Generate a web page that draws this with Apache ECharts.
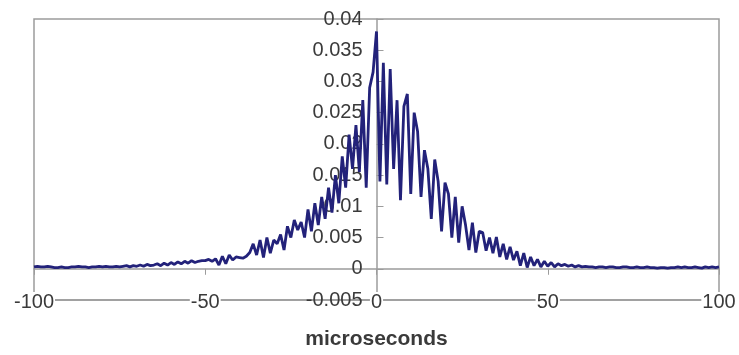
<!DOCTYPE html>
<html>
<head>
<meta charset="utf-8">
<script src="https://cdn.jsdelivr.net/npm/echarts@6/dist/echarts.min.js"></script>
<style>
  html, body { margin: 0; padding: 0; background: #fff; }
  #chart { width: 739px; height: 355px; }
</style>
</head>
<body>
<div id="chart"></div>
<script>
// x runs from -100 to 100 microseconds, one sample per microsecond
const xStart = -100
// signal values in units of 1e-3
const signal = [
  // -100 .. -71
  0.3, 0.4, 0.3, 0.3, 0.4, 0.3, 0.2, 0.2, 0.3, 0.2,
  0.2, 0.3, 0.3, 0.4, 0.3, 0.3, 0.2, 0.3, 0.3, 0.4,
  0.3, 0.4, 0.3, 0.3, 0.4, 0.3, 0.4, 0.5, 0.3, 0.5,
  // -70 .. -51
  0.4, 0.6, 0.4, 0.7, 0.5, 0.6, 0.8, 0.5, 0.9, 0.6,
  1.0, 0.7, 1.1, 0.8, 1.2, 0.9, 1.3, 1.0, 1.2, 1.3,
  // -50 .. -38
  1.3, 1.5, 1.2, 1.6, 0.6, 2.0, 0.8, 2.2, 1.4, 1.9, 1.8, 1.7, 2.0,
  // -37 .. -21
  2.6, 4.0, 2.2, 4.6, 1.8, 5.0, 2.5, 4.6, 4.0, 5.5, 3.0, 6.8, 5.0, 7.8, 6.2, 7.5, 5.0,
  // -20 .. -9
  9.5, 6.0, 10.5, 7.0, 11.5, 8.0, 13.0, 9.0, 15.0, 10.5, 18.0, 13.0,
  // -8 .. -1
  21.5, 16.0, 23.0, 15.5, 27.0, 13.0, 29.0, 31.5,
  // 0 .. 62
  38.0, 14.0, 33.0, 13.5, 32.0, 16.0, 27.0, 11.0, 26.0, 28.0,
  12.0, 25.0, 22.0, 11.5, 19.0, 16.0, 8.0, 17.5, 14.0, 6.0,
  13.8, 12.0, 5.0, 11.5, 4.2, 10.0, 7.0, 3.0, 7.4, 2.6,
  6.0, 5.8, 2.9, 5.0, 2.5, 5.1, 1.9, 4.0, 1.5, 3.5,
  1.4, 2.8, 0.5, 2.5, 0.2, 1.9, 0.5, 1.5, 0.3, 1.2,
  0.4, 1.0, 0.3, 0.8, 0.5, 0.7, 0.4, 0.6, 0.3, 0.5,
  0.3, 0.4, 0.3,
  // 63 .. 100
  0.3, 0.2, 0.3, 0.3, 0.2, 0.3, 0.3, 0.2, 0.2, 0.3,
  0.3, 0.2, 0.2, 0.3, 0.2, 0.2, 0.3, 0.2, 0.2, 0.1,
  0.2, 0.2, 0.1, 0.2, 0.2, 0.3, 0.2, 0.3, 0.2, 0.2,
  0.3, 0.2, 0.1, 0.3, 0.2, 0.3, 0.2, 0.3
]
const xTicks = [-100, -50, 0, 50, 100]
const yTicks = [-0.005, 0, 0.005, 0.01, 0.015, 0.02, 0.025, 0.03, 0.035, 0.04]

const points = signal.map((v, i) => [xStart + i, v / 1000])

const chart = echarts.init(document.getElementById('chart'))

const gray = '#9c9c9c'
const textColor = '#3a3a3a'
const font = 'Liberation Sans, Arial, sans-serif'

// plot box
const gridLeft = 34
const gridRight = 20
const plotWidth = 739 - gridLeft - gridRight
// the vertical axis sits at x = 0, halfway across
const yAxisShift = -plotWidth / 2

chart.setOption({
  animation: false,
  grid: {
    left: gridLeft,
    right: gridRight,
    top: 19,
    bottom: 55,
    containLabel: false,
    outerBoundsMode: 'none',
    show: true,
    borderColor: gray,
    borderWidth: 1.5
  },
  xAxis: [
    {
      type: 'value',
      min: xTicks[0],
      max: xTicks[xTicks.length - 1],
      interval: 50,
      position: 'bottom',
      axisLine: { onZero: false, lineStyle: { color: gray, width: 1.5 } },
      axisTick: { show: false },
      splitLine: { show: false },
      axisLabel: {
        color: textColor,
        fontFamily: font,
        fontSize: 20,
        margin: -8,
        backgroundColor: '#fff',
        padding: [0, 1]
      },
      name: 'microseconds',
      nameLocation: 'middle',
      nameGap: 29,
      nameTextStyle: { color: textColor, fontFamily: font, fontSize: 21, fontWeight: 'bold' }
    },
    {
      type: 'value',
      min: xTicks[0],
      max: xTicks[xTicks.length - 1],
      interval: 50,
      position: 'top',
      axisLine: { onZero: true, onZeroAxisIndex: 0, lineStyle: { color: gray, width: 1.5 } },
      axisTick: { show: true, inside: true, length: 6, lineStyle: { color: gray } },
      splitLine: { show: false },
      axisLabel: { show: false }
    }
  ],
  yAxis: {
    type: 'value',
    min: yTicks[0],
    max: yTicks[yTicks.length - 1],
    interval: 0.005,
    position: 'left',
    offset: yAxisShift,
    axisLine: { show: true, onZero: false, lineStyle: { color: gray, width: 1.5 } },
    axisTick: { show: true, inside: true, length: 7, lineStyle: { color: gray } },
    splitLine: { show: false },
    axisLabel: {
      color: textColor,
      fontFamily: font,
      fontSize: 20,
      margin: 14
    }
  },
  series: [{
    type: 'line',
    xAxisIndex: 0,
    data: points,
    showSymbol: false,
    lineStyle: { color: '#23227a', width: 2.8 },
    z: 5
  }]
})
</script>
</body>
</html>
